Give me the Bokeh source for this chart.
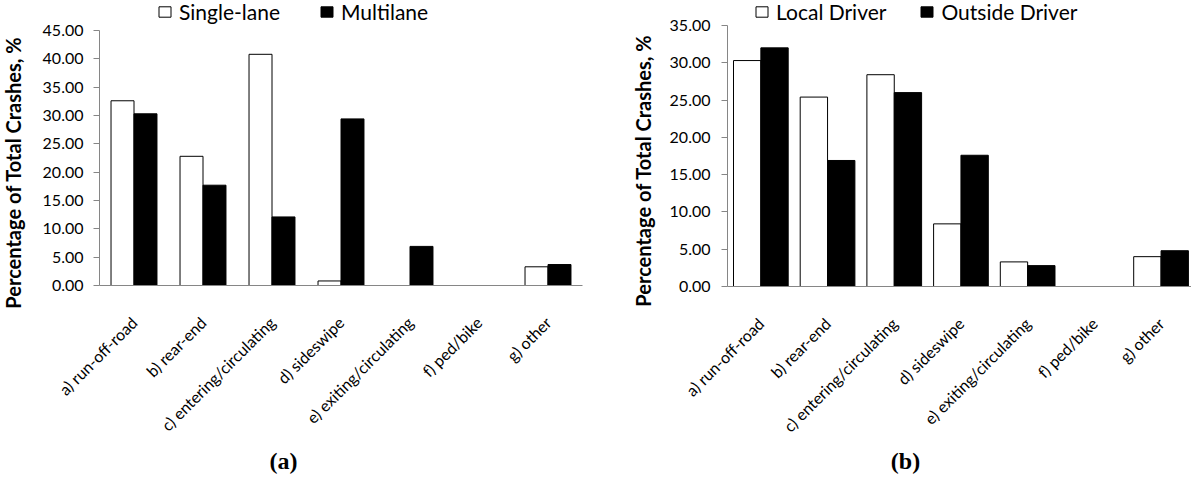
import math
from bokeh.plotting import figure
from bokeh.layouts import row
from bokeh.models import (ColumnDataSource, Range1d, Legend, LegendItem, FixedTicker,
                          NumeralTickFormatter, SingleIntervalTicker, Label)
from bokeh.embed import file_html
from bokeh.resources import INLINE

categories = ["a) run-off-road", "b) rear-end", "c) entering/circulating", "d) sideswipe",
              "e) exiting/circulating", "f) ped/bike", "g) other"]

single_lane = [32.6, 22.8, 40.8, 0.8, 0.0, 0.0, 3.3]
multilane = [30.3, 17.7, 12.1, 29.4, 6.9, 0.0, 3.7]

local_driver = [30.3, 25.4, 28.4, 8.4, 3.3, 0.0, 4.0]
outside_driver = [32.0, 16.9, 26.0, 17.6, 2.8, 0.0, 4.8]

FONT = "Lato"
AXIS_COLOR = "#868686"
FIG_H = 474
Y_TITLE = "Percentage of Total Crashes, %"


def make_panel(s1, s2, names, ymax, width, axis_left, cat_px, axis_top, axis_h,
               bar_w, leg_x, leg_spacing, leg_y, lab_standoff, title_pos, caption, cap_pos):
    n = len(categories)
    pos = list(range(n))
    # the frame covers the whole canvas; both axes sit at fixed locations inside it
    px_per_unit = axis_h / ymax
    zero_from_top = axis_top + axis_h
    x_start = -0.5 - axis_left / cat_px
    x_end = x_start + width / cat_px
    y_end = zero_from_top / px_per_unit
    y_start = -(FIG_H - zero_from_top) / px_per_unit
    p = figure(x_range=Range1d(x_start, x_end), y_range=Range1d(y_start, y_end),
               width=width, height=FIG_H, output_backend="svg", toolbar_location=None,
               min_border=0)
    src = ColumnDataSource(dict(x1=[i - bar_w / 2 for i in pos], x2=[i + bar_w / 2 for i in pos],
                                s1=s1, s2=s2))
    r1 = p.vbar(x="x1", top="s1", bottom=0, width=bar_w, source=src,
                fill_color="white", line_color="black", line_width=1)
    r2 = p.vbar(x="x2", top="s2", bottom=0, width=bar_w, source=src,
                fill_color="black", line_color="black", line_width=1)

    p.outline_line_color = None
    p.xgrid.grid_line_color = None
    p.ygrid.grid_line_color = None

    ya = p.yaxis[0]
    ya.fixed_location = -0.5
    ya.bounds = (0, ymax)
    ya.ticker = SingleIntervalTicker(interval=5)
    ya.formatter = NumeralTickFormatter(format="0.00")
    ya.axis_line_color = AXIS_COLOR
    ya.major_tick_line_color = AXIS_COLOR
    ya.major_tick_out = 6
    ya.major_tick_in = 0
    ya.minor_tick_line_color = None
    ya.major_label_text_font = FONT
    ya.major_label_text_font_size = "16px"
    ya.major_label_text_color = "black"
    ya.major_label_standoff = lab_standoff

    xa = p.xaxis[0]
    xa.fixed_location = 0
    xa.bounds = (-0.5, n - 0.5)
    xa.ticker = FixedTicker(ticks=pos)
    xa.major_label_overrides = {i: c for i, c in zip(pos, categories)}
    xa.axis_line_color = AXIS_COLOR
    xa.major_tick_line_color = None
    xa.minor_tick_line_color = None
    xa.major_label_orientation = math.pi / 4
    xa.major_label_text_font = FONT
    xa.major_label_text_font_size = "16px"
    xa.major_label_text_color = "black"
    xa.major_label_standoff = 28

    p.add_layout(Label(x=title_pos[0], y=title_pos[1], x_units="screen", y_units="screen",
                       text=Y_TITLE, angle=math.pi / 2, text_font=FONT, text_font_style="bold",
                       text_font_size="20px", text_align="center", text_baseline="middle",
                       text_color="black"))

    p.add_layout(Label(x=cap_pos[0], y=cap_pos[1], x_units="screen", y_units="screen",
                       text=caption, text_font="Liberation Serif", text_font_style="bold",
                       text_font_size="24px", text_align="center", text_baseline="middle",
                       text_color="black"))

    leg = Legend(items=[LegendItem(label=names[0], renderers=[r1]),
                        LegendItem(label=names[1], renderers=[r2])],
                 location=(leg_x, leg_y), orientation="horizontal",
                 glyph_width=15, glyph_height=13,
                 label_standoff=7, spacing=leg_spacing, padding=0, margin=0,
                 border_line_color=None, background_fill_alpha=0, label_text_font=FONT,
                 label_text_font_size="21px", label_text_color="black")
    p.add_layout(leg)
    return p


p1 = make_panel(single_lane, multilane, ["Single-lane", "Multilane"], 45, 592, 99, 69.0, 30, 255,
                0.333, 157, 39, 450, 10, (12, 302), "(a)", (283, 14))
p2 = make_panel(local_driver, outside_driver, ["Local Driver", "Outside Driver"], 35, 599, 135, 66.7, 25, 261,
                0.41, 162, 33, 450, 11, (50, 304), "(b)", (313, 14))

layout = row(p1, p2)
open("out.html", "w").write(file_html(layout, INLINE))
